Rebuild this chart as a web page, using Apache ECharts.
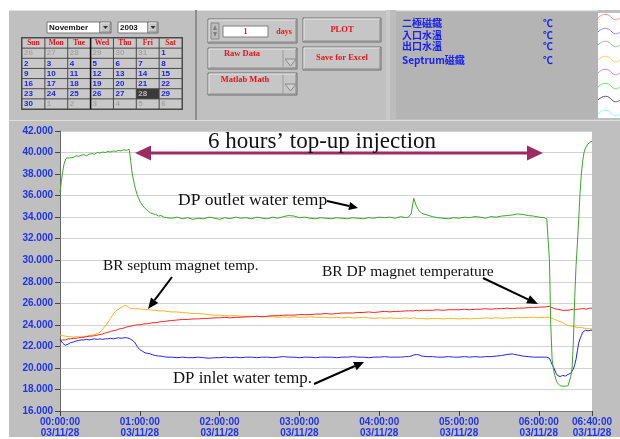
<!DOCTYPE html>
<html><head><meta charset="utf-8">
<script src="https://cdn.jsdelivr.net/npm/echarts@6/dist/echarts.min.js"></script>
<style>html,body{margin:0;padding:0;background:#fff;}#c{width:620px;height:439px;}</style>
</head><body><div id="c"></div>
<script>
// ---------------- DATA ----------------
const minutes = [0,1,2,3,4,5,6,7,8,10,12,14,16,18,20,22,24,26,28,30,32,34,36,38,40,42,44,46,48,50,52,53,54,55,56,57,58,59,60,61,62,64,66,68,70,72,74,76,78,80,
84,88,92,96,100,104,108,112,116,120,124,128,132,136,140,144,148,152,156,160,164,168,172,176,180,184,188,192,196,200,204,208,212,216,220,224,228,232,236,240,244,248,252,256,
260,262,264,266,268,270,272,
276,280,284,288,292,296,300,304,308,312,316,320,324,328,332,336,340,344,348,352,356,360,364,
365,366,367,368,369,370,371,372,373,374,375,376,377,378,379,380,381,382,383,384,385,386,387,388,389,390,391,392,393,394,395,396,397,398,399,400];

// DP outlet water temp (green)
const outletTemp = [36.3,37.3,38.2,38.9,39.3,39.5,39.6,39.5,39.6,
39.55,39.7,39.65,39.75,39.8,39.7,39.85,39.9,39.85,40.0,39.95,40.05,40.0,40.1,40.05,40.15,40.1,40.2,40.15,40.25,40.2,40.3,
39.4,38.3,37.6,37.0,36.5,36.1,35.8,35.5,35.3,35.1,
34.8,34.6,34.4,34.3,34.25,34.1,34.15,34.0,33.95,
33.9,34.0,33.85,33.95,33.8,33.9,33.85,34.0,33.9,33.8,33.95,33.85,34.0,33.9,33.95,33.85,34.0,33.9,33.85,34.0,33.9,34.05,34.15,34.1,33.95,34.0,33.9,33.85,33.95,33.9,33.85,33.95,33.9,33.85,33.95,33.9,33.85,33.95,33.9,34.0,33.95,34.0,33.9,34.05,
33.95,34.0,34.3,35.75,35.0,34.6,34.35,
34.2,34.05,33.95,33.9,33.85,33.95,33.9,34.0,33.95,34.05,34.0,33.9,34.05,34.0,34.1,34.15,34.2,34.3,34.25,34.15,34.1,34.0,33.95,
33.9,33.85,33.8,30.0,24.0,20.8,19.9,19.3,18.9,18.6,18.45,18.35,18.3,18.3,18.3,18.3,18.3,18.35,18.5,19.2,19.9,22.5,26.5,29.5,31.5,33.8,36.2,38.0,39.2,40.0,40.4,40.6,40.8,40.9,41.0,41.05];

// DP inlet water temp (blue)
const inletTemp = [22.65,22.5,22.3,22.15,22.1,22.15,22.2,22.3,22.35,
22.4,22.5,22.55,22.6,22.6,22.65,22.6,22.65,22.7,22.65,22.7,22.65,22.7,22.7,22.75,22.7,22.75,22.8,22.75,22.8,22.8,22.75,
22.7,22.6,22.5,22.4,22.2,22.0,21.85,21.7,21.6,21.55,
21.4,21.35,21.3,21.2,21.15,21.1,21.1,21.05,21.0,
21.0,20.95,21.0,20.95,20.95,21.0,20.95,20.9,20.95,20.95,21.0,20.95,21.0,20.95,21.0,21.0,20.95,21.0,21.0,20.95,21.0,21.05,21.0,21.0,20.95,21.0,21.0,20.95,21.0,21.0,21.0,20.95,21.0,21.0,21.05,21.0,21.0,20.95,21.0,21.0,21.05,21.0,21.0,21.0,
21.05,21.05,21.1,21.2,21.25,21.2,21.1,
21.05,21.05,21.0,21.0,21.05,21.0,21.0,21.05,21.0,21.05,21.0,21.05,21.05,21.1,21.15,21.25,21.3,21.2,21.1,21.05,21.0,21.0,21.0,
21.0,21.0,21.0,20.9,20.6,20.3,20.1,19.8,19.5,19.3,19.25,19.2,19.25,19.3,19.3,19.25,19.3,19.4,19.5,19.5,19.6,19.9,20.3,20.8,21.6,22.3,22.7,23.0,23.3,23.4,23.5,23.5,23.45,23.55,23.5,23.5];

// BR DP magnet temperature (red)
const dipoleTemp = [22.55,22.6,22.6,22.65,22.6,22.65,22.7,22.65,22.7,
22.75,22.75,22.8,22.85,22.85,22.9,22.95,22.95,23.0,23.05,23.1,23.15,23.25,23.3,23.4,23.45,23.5,23.6,23.65,23.7,23.8,23.85,
23.85,23.9,23.9,23.95,23.95,24.0,24.0,24.0,24.05,24.05,
24.1,24.1,24.15,24.2,24.2,24.25,24.3,24.3,24.35,
24.4,24.45,24.5,24.5,24.55,24.55,24.6,24.6,24.65,24.65,24.7,24.65,24.7,24.7,24.75,24.75,24.8,24.75,24.8,24.85,24.85,24.9,24.9,24.9,24.95,24.95,24.95,25.0,25.0,25.05,25.0,25.05,25.1,25.1,25.1,25.15,25.15,25.2,25.15,25.2,25.25,25.2,25.25,25.25,
25.3,25.3,25.3,25.3,25.35,25.3,25.35,
25.35,25.35,25.4,25.35,25.4,25.4,25.4,25.45,25.4,25.45,25.45,25.5,25.45,25.5,25.5,25.55,25.5,25.55,25.55,25.6,25.6,25.65,25.65,
25.65,25.7,25.65,25.7,25.65,25.6,25.55,25.5,25.45,25.45,25.4,25.4,25.35,25.35,25.3,25.35,25.3,25.35,25.4,25.4,25.4,25.45,25.4,25.45,25.4,25.45,25.45,25.5,25.45,25.5,25.5,25.45,25.5,25.55,25.5,25.55];

// BR septum magnet temp (orange)
const septumTemp = [23.05,23.0,23.0,22.95,22.95,22.9,22.9,22.85,22.9,
22.85,22.9,22.9,22.85,22.9,22.95,23.0,23.05,23.1,23.2,23.3,23.6,23.9,24.2,24.6,25.0,25.3,25.45,25.6,25.75,25.8,25.6,
25.55,25.5,25.55,25.5,25.45,25.5,25.45,25.45,25.4,25.45,
25.4,25.4,25.4,25.35,25.35,25.3,25.3,25.3,25.25,
25.2,25.2,25.15,25.1,25.05,25.05,25.0,24.95,24.9,24.9,24.85,24.85,24.85,24.8,24.8,24.8,24.75,24.8,24.75,24.75,24.7,24.75,24.7,24.75,24.7,24.7,24.75,24.7,24.7,24.7,24.65,24.7,24.65,24.7,24.65,24.65,24.7,24.65,24.6,24.65,24.6,24.65,24.6,24.6,
24.65,24.6,24.6,24.65,24.6,24.6,24.6,
24.55,24.6,24.6,24.55,24.6,24.6,24.55,24.6,24.55,24.6,24.6,24.65,24.6,24.65,24.6,24.65,24.65,24.7,24.65,24.7,24.7,24.65,24.7,
24.7,24.7,24.65,24.7,24.65,24.6,24.55,24.5,24.45,24.4,24.35,24.3,24.25,24.2,24.1,24.05,24.0,23.95,23.9,23.9,23.85,23.85,23.8,23.8,23.8,23.75,23.75,23.75,23.7,23.7,23.7,23.65,23.65,23.65,23.65,23.6];

const xTickMinutes = [0,60,120,180,240,300,360,400];
const xTickTimes = ['00:00:00','01:00:00','02:00:00','03:00:00','04:00:00','05:00:00','06:00:00','06:40:00'];
const xTickDate = '03/11/28';
const yMin = 16, yMax = 42, yStep = 2;

const legendNames = ['二極磁鐵','入口水溫','出口水溫','Septrum磁鐵'];
const legendUnit = '℃';
const weekDays = ['Sun','Mon','Tue','Wed','Thu','Fri','Sat'];
const calDays = [26,27,28,29,30,31,1, 2,3,4,5,6,7,8, 9,10,11,12,13,14,15, 16,17,18,19,20,21,22, 23,24,25,26,27,28,29, 30,1,2,3,4,5,6];
const calInMonth = [0,0,0,0,0,0,1, 1,1,1,1,1,1,1, 1,1,1,1,1,1,1, 1,1,1,1,1,1,1, 1,1,1,1,1,1,1, 1,0,0,0,0,0,0];
const calSelected = 33;
const annotations = {
  injection: '6 hours\u2019 top-up injection',
  outlet: 'DP outlet water temp',
  septum: 'BR septum magnet temp.',
  dipole: 'BR DP magnet temperature',
  inlet: 'DP inlet water temp.'
};

// ---------------- GRAPHICS HELPERS ----------------
const G = [];
function rect(x,y,w,h,fill,stroke,lw,z){G.push({type:'rect',shape:{x:x,y:y,width:w,height:h},style:{fill:fill,stroke:stroke||null,lineWidth:lw||1},z:z==null?-10:z,silent:true});}
function text(x,y,t,o){const st=Object.assign({text:t,fill:'#000',font:'10px sans-serif',textAlign:'left',textVerticalAlign:'middle'},o||{});st.align=st.textAlign;st.verticalAlign=st.textVerticalAlign;G.push({type:'text',x:x,y:y,style:st,z:60,silent:true});}
function line(x1,y1,x2,y2,stroke,lw,z){G.push({type:'line',shape:{x1:x1,y1:y1,x2:x2,y2:y2},style:{stroke:stroke,lineWidth:lw||1},z:z==null?-9:z,silent:true});}
function poly(pts,fill,z,stroke){G.push({type:'polygon',shape:{points:pts},style:{fill:fill,stroke:stroke||null},z:z==null?-9:z,silent:true});}
function arrow(x1,y1,x2,y2,color,lw,hl,hw){const dx=x2-x1,dy=y2-y1,L=Math.hypot(dx,dy),ux=dx/L,uy=dy/L;const bx=x2-ux*hl,by=y2-uy*hl;line(x1,y1,bx,by,color,lw,55);poly([[x2,y2],[bx-uy*hw,by+ux*hw],[bx+uy*hw,by-ux*hw]],color,55);}
function button(x,y,w,h){rect(x,y,w,h,'#c6c6c6','#6f6f6f',1,-8);line(x+1,y+1,x+w-1,y+1,'#e6e6e6',1,-7);line(x+1,y+1,x+1,y+h-1,'#e6e6e6',1,-7);line(x+1,y+h-1,x+w-1,y+h-1,'#8a8a8a',1,-7);line(x+w-1,y+1,x+w-1,y+h-1,'#8a8a8a',1,-7);}

// panels
rect(9,10,611,110,'#c0c0c0');
line(9,10.5,598,10.5,'#e2e2e2',1);
rect(195,10,2,110,'#8e8e8e',null,1,-9);
rect(386,10,4,110,'#cacaca',null,1,-9);
rect(390,10,6,110,'#bdbdbd',null,1,-9);
rect(396,12,202,107,'#b4b4b4',null,1,-9);
rect(598,13,22,105,'#ffffff',null,1,-9);
line(9,120.5,620,120.5,'#dcdcdc',1);
rect(9,121,611,316,'#bfbfbf');

// calendar dropdowns
rect(47,22,53,11,'#ffffff','#7a7a7a',1,-8);
text(49,27.5,'November',{font:'bold 8px "Liberation Sans"',fill:'#111'});
button(100,22,11,11);
poly([[103,26],[108,26],[105.5,29]],'#333',-6);
rect(118,22,30,11,'#ffffff','#7a7a7a',1,-8);
text(120,27.5,'2003',{font:'bold 8px "Liberation Sans"',fill:'#111'});
button(148,22,10,11);
poly([[150.5,26],[155.5,26],[153,29]],'#333',-6);

// calendar grid
const cx0=22, cy0=38, cw=160/7, ch=71/7;
rect(cx0-1,cy0-1,162,73,'#4a4a4a',null,1,-8);
for(let c=0;c<7;c++){
  rect(cx0+c*cw+0.5,cy0+0.5,cw-1,ch-1,'#c9c9c9',null,1,-7);
  text(cx0+c*cw+cw/2,cy0+ch/2,weekDays[c],{font:'bold 7.5px "Liberation Serif"',fill:'#e8141c',textAlign:'center'});
}
for(let i=0;i<calDays.length;i++){
  const r=Math.floor(i/7)+1,c=i%7;
  const sel=(i===calSelected);
  rect(cx0+c*cw+0.5,cy0+r*ch+0.5,cw-1,ch-1,sel?'#3a3a3a':'#c9c9c9',null,1,-7);
  text(cx0+c*cw+2,cy0+r*ch+ch/2,String(calDays[i]),{font:'bold 8px "Liberation Sans"',fill:sel?'#b8b8b8':(calInMonth[i]?'#1a22f0':'#a6a6a6')});
}
line(cx0+3*cw,cy0,cx0+3*cw,cy0+71,'#111',1.5,-6);

// controls
button(208,19,89,24);
rect(211,23,8,16,'#bcbcbc','#8a8a8a',1,-6);
poly([[213,30],[217,30],[215,25]],'#808080',-5);
poly([[213,32],[217,32],[215,37]],'#808080',-5);
rect(223,26,45,11,'#ffffff','#808080',1,-6);
text(245.5,31.5,'1',{font:'bold 8px "Liberation Serif"',fill:'#e8141c',textAlign:'center'});
text(284,31.5,'days',{font:'bold 8px "Liberation Serif"',fill:'#e8141c',textAlign:'center'});
button(303,18,78,24);
text(342,29.5,'PLOT',{font:'bold 8.5px "Liberation Serif"',fill:'#e8141c',textAlign:'center'});
button(303,47,78,23);
text(342,57.5,'Save for Excel',{font:'bold 8.5px "Liberation Serif"',fill:'#e8141c',textAlign:'center'});
button(208,48,89,21);
text(242,54,'Raw Data',{font:'bold 8.5px "Liberation Serif"',fill:'#e8141c',textAlign:'center'});
line(283,50,283,67,'#9a9a9a',1,-6);
poly([[285,59],[296,59],[290.5,66]],'#cfcfcf',-6,'#8a8a8a');
button(208,73,89,22);
text(245,80,'Matlab Math',{font:'bold 8.5px "Liberation Serif"',fill:'#e8141c',textAlign:'center'});
line(283,75,283,93,'#9a9a9a',1,-6);
poly([[285,84],[296,84],[290.5,91]],'#cfcfcf',-6,'#8a8a8a');

// legend text
const legY=[23,35,46,60];
for(let i=0;i<legendNames.length;i++){
  text(402,legY[i],legendNames[i],{font:'bold 10px "Noto Sans CJK TC"',fill:'#1a22f0'});
  text(548,legY[i],legendUnit,{font:'bold 10px "Noto Sans CJK TC"',fill:'#1a22f0',textAlign:'center'});
}
// legend swatch waves
const waveCols=['#ff8a8a','#8a8aff','#8acc8a','#ffcc66','#c78ae6','#66e066','#555555','#88ffff'];
const waveY=[17,31,44,59,72,86,99,113];
for(let i=0;i<waveCols.length;i++){
  const y=waveY[i];
  G.push({type:'bezierCurve',shape:{x1:598,y1:y+1,cpx1:603,cpy1:y-4,cpx2:608,cpy2:y-4,x2:612,y2:y+1},style:{stroke:waveCols[i],lineWidth:1,fill:null},z:-5,silent:true});
  G.push({type:'bezierCurve',shape:{x1:612,y1:y+1,cpx1:615,cpy1:y+4,cpx2:618,cpy2:y+3,x2:621,y2:y},style:{stroke:waveCols[i],lineWidth:1,fill:null},z:-5,silent:true});
}

// annotations
const serif='"Liberation Serif","Times New Roman",serif';
text(208,142,annotations.injection,{font:'23px '+serif,fill:'#111'});
line(150,153,528,153,'#9c2c62',3,55);
poly([[135,153],[151,145.5],[151,160.5]],'#9c2c62',55);
poly([[543,153],[527,145.5],[527,160.5]],'#9c2c62',55);
text(178,200,annotations.outlet,{font:'17.5px '+serif,fill:'#111'});
arrow(327,201,358,208,'#000',2,9,4);
text(103,266,annotations.septum,{font:'15.3px '+serif,fill:'#111'});
arrow(172,277,148,309,'#000',2,11,4.5);
text(322,272,annotations.dipole,{font:'15.5px '+serif,fill:'#111'});
arrow(483,278,538,304,'#000',2,11,4.5);
text(173,379,annotations.inlet,{font:'16.8px '+serif,fill:'#111'});
arrow(314,384,364,362,'#000',2,10,4.5);

// ---------------- CHART ----------------
const pairs = arr => minutes.map((t,i)=>[t,arr[i]]);
const labelBlue = '#1f33f2';
const chart = echarts.init(document.getElementById('c'), null, {renderer:'canvas'});
chart.setOption({
  backgroundColor:'#ffffff',
  animation:false,
  grid:{left:60,top:131,width:532,height:280,show:true,backgroundColor:'#ffffff',borderWidth:0,z:0},
  xAxis:{type:'value',min:0,max:400,
    axisLine:{show:true,lineStyle:{color:'#7a7a7a',width:1}},
    axisTick:{show:true,length:5,customValues:xTickMinutes,lineStyle:{color:'#444'}},
    axisLabel:{customValues:xTickMinutes,hideOverlap:false,color:labelBlue,fontWeight:'bold',fontSize:10,fontFamily:'Liberation Sans',lineHeight:11,margin:6,
      formatter:v=>{const i=xTickMinutes.indexOf(v);return i<0?'':xTickTimes[i]+'\n'+xTickDate;}},
    splitLine:{show:false}},
  yAxis:{type:'value',min:yMin,max:yMax,interval:yStep,
    axisLine:{show:true,lineStyle:{color:'#6a6a6a',width:1}},
    axisTick:{show:true,length:5,lineStyle:{color:'#444'}},
    axisLabel:{color:labelBlue,fontWeight:'bold',fontSize:10,fontFamily:'Liberation Sans',margin:7,formatter:v=>v.toFixed(3)},
    splitLine:{show:true,lineStyle:{color:'#d2d2d2',width:1}}},
  series:[
    {name:'septum',type:'line',data:pairs(septumTemp),showSymbol:false,lineStyle:{color:'#f4b522',width:1},itemStyle:{color:'#f4b522'},z:2},
    {name:'dipole',type:'line',data:pairs(dipoleTemp),showSymbol:false,lineStyle:{color:'#ff2222',width:1},itemStyle:{color:'#ff2222'},z:3},
    {name:'inlet',type:'line',data:pairs(inletTemp),showSymbol:false,lineStyle:{color:'#2424ee',width:1},itemStyle:{color:'#2424ee'},z:4},
    {name:'outlet',type:'line',data:pairs(outletTemp),showSymbol:false,lineStyle:{color:'#3aa62a',width:1},itemStyle:{color:'#3aa62a'},z:5}
  ],
  graphic:{elements:G}
});
</script></body></html>
